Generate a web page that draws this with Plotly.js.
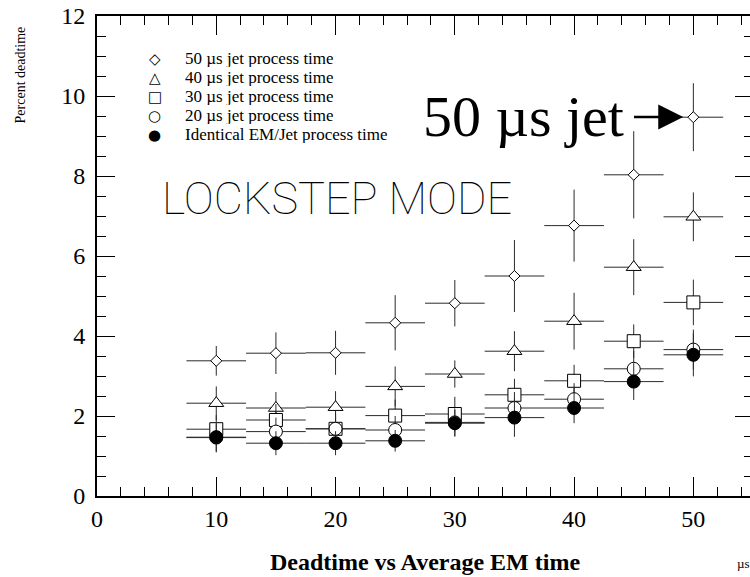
<!DOCTYPE html>
<html>
<head>
<meta charset="utf-8">
<script src="https://cdn.plot.ly/plotly-3.0.1.min.js"></script>
<style>
html,body{margin:0;padding:0;overflow:hidden;background:#fff;}
#chart{width:756px;height:577px;}
</style>
</head>
<body>
<div id="chart"></div>
<script>
// Average EM time (µs) and bin half-width
const emTime = [10, 15, 20, 25, 30, 35, 40, 45, 50];
const binHalfWidth = [2.5, 2.5, 2.5, 2.5, 2.5, 2.5, 2.5, 2.5, 2.5];

// Percent deadtime per jet process time
const jet50 = [3.38, 3.57, 3.58, 4.33, 4.82, 5.50, 6.76, 8.03, 9.47];
const jet50Err = [0.37, 0.52, 0.55, 0.69, 0.58, 0.90, 0.90, 1.09, 0.85];

const jet40 = [2.32, 2.20, 2.22, 2.74, 3.05, 3.62, 4.37, 5.72, 6.98];
const jet40Err = [0.42, 0.40, 0.40, 0.50, 0.34, 0.50, 0.71, 0.70, 0.61];

const jet30 = [1.67, 1.90, 1.68, 2.01, 2.05, 2.53, 2.88, 3.87, 4.84];
const jet30Err = [0.35, 0.40, 0.40, 0.40, 0.43, 0.40, 0.40, 0.42, 0.57];

const jet20 = [1.46, 1.61, 1.68, 1.65, 1.84, 2.20, 2.42, 3.18, 3.66];
const jet20Err = [0.35, 0.35, 0.35, 0.35, 0.35, 0.40, 0.40, 0.45, 0.50];

const identical = [1.47, 1.32, 1.32, 1.38, 1.82, 1.96, 2.20, 2.86, 3.53];
const identicalErr = [0.38, 0.30, 0.30, 0.27, 0.33, 0.48, 0.38, 0.46, 0.54];

const seriesNames = [
  "50 µs jet process time",
  "40 µs jet process time",
  "30 µs jet process time",
  "20 µs jet process time",
  "Identical EM/Jet process time"
];
const legendGlyphs = ["\u25C7", "\u25B3", "\u25A1", "\u25CB", "\u25CF"];

const xTickVals = [0, 10, 20, 30, 40, 50];
const yTickVals = [0, 2, 4, 6, 8, 10, 12];

function mk(y, err, name, symbol, size, fill) {
  return {
    type: "scatter", mode: "markers", name: name,
    x: emTime, y: y,
    error_x: {type: "data", array: binHalfWidth, visible: true, color: "#2a2a2a", thickness: 1, width: 0},
    error_y: {type: "data", array: err, visible: true, color: "#2a2a2a", thickness: 1, width: 0},
    marker: {symbol: symbol, size: size, color: fill, line: {color: "#000", width: 1}},
    cliponaxis: false
  };
}

const data = [
  mk(jet50, jet50Err, seriesNames[0], "diamond", 8.5, "#fff"),
  mk(jet40, jet40Err, seriesNames[1], "triangle-up", 13, "#fff"),
  mk(jet30, jet30Err, seriesNames[2], "square", 13, "#fff"),
  mk(jet20, jet20Err, seriesNames[3], "circle", 13, "#fff"),
  mk(identical, identicalErr, seriesNames[4], "circle", 13, "#000")
];

const serif = "Liberation Serif, Times New Roman, serif";

const annotations = [];
// legend built from text
const legendRowsY = [10.95, 10.475, 10.0, 9.525, 9.05];
for (let i = 0; i < seriesNames.length; i++) {
  annotations.push({x: 4.86, y: legendRowsY[i], xref: "x", yref: "y", text: legendGlyphs[i],
    showarrow: false, xanchor: "center", yanchor: "middle", height: 17,
    font: {family: "DejaVu Sans", size: 15, color: "#000"}});
  annotations.push({x: 7.2, y: legendRowsY[i], xref: "x", yref: "y", text: seriesNames[i],
    showarrow: false, xanchor: "left", yanchor: "middle", height: 17,
    font: {family: serif, size: 17, color: "#000"}});
}
annotations.push({x: 20.1, y: 7.43, xref: "x", yref: "y", text: "LOCKSTEP MODE", showarrow: false,
  xanchor: "center", yanchor: "middle", font: {family: "Roboto", weight: 100, size: 45, color: "#000"}});
annotations.push({x: 35.75, y: 9.5, xref: "x", yref: "y", text: "50 µs jet", showarrow: false,
  xanchor: "center", yanchor: "middle", font: {family: serif, size: 58, color: "#000"}});
annotations.push({x: 49.15, y: 9.475, xref: "x", yref: "y", ax: 44.9, ay: 9.475, axref: "x", ayref: "y",
  text: "", showarrow: true, arrowhead: 2, arrowwidth: 2.5, arrowsize: 2, arrowcolor: "#000"});
annotations.push({x: -0.116, y: 0.878, xref: "paper", yref: "paper", text: "Percent deadtime", textangle: -90,
  showarrow: false, xanchor: "center", yanchor: "middle", font: {family: serif, size: 14, color: "#000"}});
annotations.push({x: 0.972, y: -0.14, xref: "paper", yref: "paper", text: "µs", showarrow: false,
  xanchor: "left", yanchor: "middle", font: {family: serif, size: 13, color: "#000"}});

const layout = {
  width: 756, height: 577,
  margin: {l: 97, r: 3, t: 16, b: 81, pad: 0},
  paper_bgcolor: "#fff", plot_bgcolor: "#fff",
  showlegend: false,
  font: {family: serif, color: "#000"},
  xaxis: {
    range: [0, 55], tickvals: xTickVals, ticks: "inside", ticklen: 19, tickwidth: 1, tickcolor: "#000",
    showline: true, linewidth: 2, linecolor: "#000", mirror: "allticks",
    showgrid: false, zeroline: false,
    minor: {dtick: 2, ticks: "inside", ticklen: 9, tickwidth: 1, tickcolor: "#000", showgrid: false},
    tickfont: {family: serif, size: 24, color: "#000"},
    title: {text: "Deadtime vs Average EM time", font: {family: serif, size: 24, weight: "bold", color: "#000"}, standoff: 22}
  },
  yaxis: {
    range: [0, 12], tickvals: yTickVals, ticks: "inside", ticklen: 18, tickwidth: 1, tickcolor: "#000",
    showline: true, linewidth: 2, linecolor: "#000", mirror: "allticks",
    showgrid: false, zeroline: false, ticklabelstandoff: 5,
    minor: {dtick: 0.5, ticks: "inside", ticklen: 9, tickwidth: 1, tickcolor: "#000", showgrid: false},
    tickfont: {family: serif, size: 24, color: "#000"}
  },
  annotations: annotations
};

Plotly.newPlot("chart", data, layout, {displayModeBar: false, staticPlot: true});
</script>
</body>
</html>
